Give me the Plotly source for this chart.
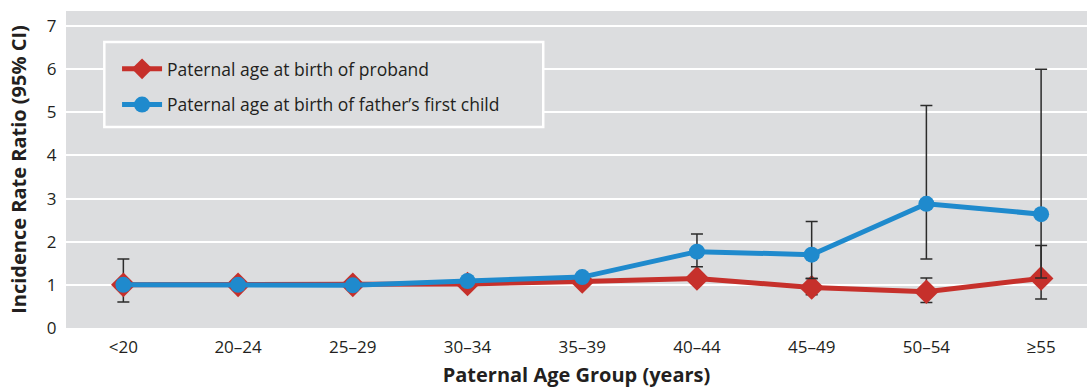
import plotly.graph_objects as go

categories = ["<20", "20–24", "25–29", "30–34", "35–39", "40–44", "45–49", "50–54", "≥55"]

proband_irr = [1.0, 1.0, 1.0, 1.02, 1.08, 1.15, 0.94, 0.84, 1.15]
proband_hi = [1.6, 1.0, 1.0, 1.02, 1.08, 1.15, 1.15, 1.16, 1.91]
proband_lo = [0.6, 1.0, 1.0, 1.02, 1.08, 1.15, 0.77, 0.59, 0.67]

first_irr = [1.0, 1.0, 0.99, 1.09, 1.18, 1.77, 1.70, 2.88, 2.64]
first_hi = [1.0, 1.0, 0.99, 1.09, 1.18, 2.18, 2.47, 5.16, 6.0]
first_lo = [1.0, 1.0, 0.99, 1.09, 1.18, 1.42, 1.15, 1.60, 1.16]

red = "#C6302B"
blue = "#1F8ACD"
ink = "#231F20"
panel = "#DCDDDF"

def err(vals, hi, lo):
    plus = [h - v for v, h in zip(vals, hi)]
    minus = [v - l for v, l in zip(vals, lo)]
    return dict(type="data", symmetric=False, array=plus, arrayminus=minus,
                color="#2b2b2b", thickness=1.5, width=6)

fig = go.Figure()
fig.add_trace(go.Scatter(
    x=categories, y=proband_irr, mode="lines+markers",
    name="Paternal age at birth of proband", legendgroup="a",
    line=dict(color=red, width=5),
    marker=dict(symbol="diamond", size=19, color=red),
    error_y=err(proband_irr, proband_hi, proband_lo),
))
fig.add_trace(go.Scatter(
    x=categories, y=first_irr, mode="lines+markers",
    name="Paternal age at birth of father’s first child", legendgroup="b",
    line=dict(color=blue, width=5),
    marker=dict(symbol="circle", size=16, color=blue),
    error_y=err(first_irr, first_hi, first_lo),
))

# legend frame (grey box with white border, covering gridlines)
fig.add_shape(type="rect", xref="x", yref="y", x0=-0.166, x1=3.66, y0=4.66, y1=6.63,
              layer="between", fillcolor=panel, line=dict(color="white", width=2.5))

fig.update_layout(
    width=1089, height=388,
    margin=dict(l=66, r=2, t=11, b=60),
    paper_bgcolor="white", plot_bgcolor=panel,
    font=dict(family="Open Sans, Noto Sans, sans-serif", size=17, color=ink),
    legend=dict(
        x=0.05, y=0.874, xanchor="left", yanchor="top",
        bgcolor="rgba(0,0,0,0)", borderwidth=0,
        font=dict(size=17.5, color=ink), itemwidth=40,
        tracegroupgap=10,
    ),
    xaxis=dict(
        range=[-0.5, 8.4], showgrid=False, zeroline=False,
        ticks="outside", ticklen=4, tickcolor="rgba(0,0,0,0)",
        title=dict(text="<b>Paternal Age Group (years)</b>", font=dict(size=20), standoff=10),
        tickfont=dict(size=17),
    ),
    yaxis=dict(
        range=[0, 7.35], dtick=1, tick0=0, gridcolor="white", gridwidth=2,
        zeroline=False, ticks="outside", ticklen=5, tickcolor="rgba(0,0,0,0)",
        tickfont=dict(size=17),
        title=dict(text="<b>Incidence Rate Ratio (95% CI)</b>", font=dict(size=20), standoff=14),
    ),
)

fig.write_html("out.html", config={"displayModeBar": False},
               post_script="document.body.style.margin='0';document.body.style.overflow='hidden';")
